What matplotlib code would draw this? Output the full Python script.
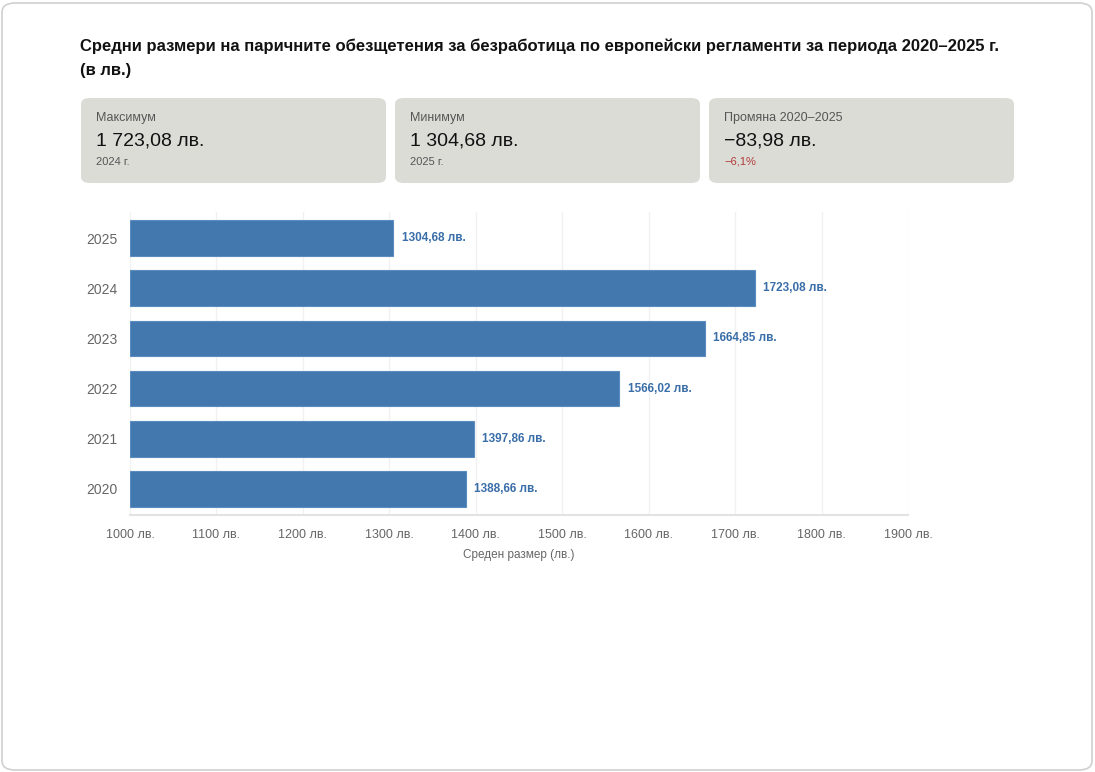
import matplotlib
matplotlib.use("Agg")
import matplotlib.pyplot as plt
from matplotlib.patches import FancyBboxPatch

plt.rcParams['font.family'] = ['Liberation Sans', 'DejaVu Sans']

# MARK:- data
years = ["2020", "2021", "2022", "2023", "2024", "2025"]
values = [1388.66, 1397.86, 1566.02, 1664.85, 1723.08, 1304.68]
x_ticks = [1000, 1100, 1200, 1300, 1400, 1500, 1600, 1700, 1800, 1900]
change_pct_label = "−6,1%"

title = "Средни размери на паричните обезщетения за безработица по европейски регламенти за периода 2020–2025 г.\n(в лв.)"
xlabel = "Среден размер (лв.)"


def fmt_bg(v, sep=" "):
    s = f"{abs(v):,.2f}".replace(",", "X").replace(".", ",").replace("X", sep)
    return ("−" if v < 0 else "") + s


W, H = 1095, 772
fig = plt.figure(figsize=(W / 100, H / 100), dpi=100)
fig.patch.set_facecolor("white")

# outer frame
fig.patches.append(FancyBboxPatch((2 / W, 2 / H), (W - 5) / W, (H - 5) / H,
                                  boxstyle="round,pad=0,rounding_size=0.012",
                                  transform=fig.transFigure, fc="none", ec="#d0d0d0", lw=1.2))

fig.text(80 / W, 1 - 38 / H, title, fontsize=12, fontweight="bold", va="top", ha="left",
         color="#111111", linespacing=1.75)

# MARK:- stat cards
i_max = values.index(max(values))
i_min = values.index(min(values))
change = values[-1] - values[0]
cards = [
    ("Максимум", fmt_bg(values[i_max]) + " лв.", years[i_max] + " г.", "#555555"),
    ("Минимум", fmt_bg(values[i_min]) + " лв.", years[i_min] + " г.", "#555555"),
    (f"Промяна {years[0]}–{years[-1]}", fmt_bg(change) + " лв.", change_pct_label, "#b03a3a"),
]
card_x = [81, 395, 709]
for cx, (lab, big, sub, subc) in zip(card_x, cards):
    fig.patches.append(FancyBboxPatch((cx / W, 1 - 183 / H), 305 / W, 85 / H,
                                      boxstyle="round,pad=0,rounding_size=0.008",
                                      transform=fig.transFigure, fc="#dcdcd7", ec="none"))
    fig.text((cx + 15) / W, 1 - 118 / H, lab, fontsize=9, color="#555555", va="center")
    fig.text((cx + 15) / W, 1 - 141 / H, big, fontsize=14, color="#111111", va="center")
    fig.text((cx + 15) / W, 1 - 162 / H, sub, fontsize=8, color=subc, va="center")

# MARK:- bar chart
ax = fig.add_axes([130 / W, 1 - 515 / H, (908 - 130) / W, (515 - 212) / H])
ax.set_facecolor("none")
ypos = list(range(len(years)))
bars = ax.barh(ypos, [v - x_ticks[0] for v in values], left=x_ticks[0], height=0.71,
               color="#4278ae", edgecolor="#5a8cbf", linewidth=0.8, zorder=3)
for b, v in zip(bars, values):
    ax.annotate(f"{v:.2f}".replace(".", ",") + " лв.", (v, b.get_y() + b.get_height() / 2),
                xytext=(6, 0), textcoords="offset points", va="center", ha="left",
                fontsize=8.5, fontweight="bold", color="#3a6ea8")

ax.set_xlim(x_ticks[0], x_ticks[-1])
ax.set_ylim(-0.52, len(years) - 0.48)
ax.set_yticks(ypos)
ax.set_yticklabels(years)
ax.set_xticks(x_ticks)
ax.set_xticklabels([f"{t} лв." for t in x_ticks])
ax.tick_params(axis="both", length=0, colors="#666666", labelsize=9)
ax.tick_params(axis="x", pad=10)
ax.tick_params(axis="y", pad=9, labelsize=10)
ax.grid(axis="x", color="#f1f1f1", lw=1, zorder=0)
for s in ["top", "right", "left"]:
    ax.spines[s].set_visible(False)
ax.spines["bottom"].set_color("#e3e3e3")
ax.spines["bottom"].set_linewidth(1.5)
ax.set_xlabel(xlabel, fontsize=8.5, color="#666666", labelpad=6)

fig.savefig("out.png", dpi=100)
